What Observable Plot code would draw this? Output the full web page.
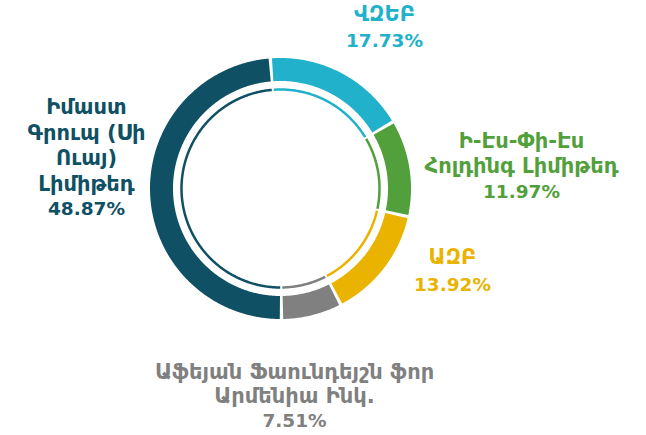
<!DOCTYPE html>
<html>
<head>
<meta charset="utf-8">
<script src="https://cdn.jsdelivr.net/npm/d3@7"></script>
<script src="https://cdn.jsdelivr.net/npm/@observablehq/plot@0.6"></script>
<style>
  html, body { margin: 0; padding: 0; background: #fff; }
  #chart { width: 646px; height: 435px; }
  text.name { letter-spacing: 0.6px; }
</style>
</head>
<body>
<div id="chart"></div>
<script>
// ---- data ----
const names = [
  "ՎԶԵԲ",
  "Ի-Էս-Փի-Էս\nՀոլդինգ Լիմիթեդ",
  "ԱԶԲ",
  "Աֆեյան Ֆաունդեյշն ֆոր\nԱրմենիա Ինկ.",
  "Իմաստ\nԳրուպ (Սի\nՈւայ)\nԼիմիթեդ"
];
const values = [17.73, 11.97, 13.92, 7.51, 48.87];
const colors = ["#21b1ca", "#52a03c", "#e9b300", "#808080", "#0f5064"];

// ---- layout ----
const W = 646, H = 435;
const cx = 280, cy = 188;
const startDeg = -4.5;
const rings = [
  {r: 119, width: 23, gapPx: 3},
  {r: 99, width: 2.5, gapPx: 2}
];
// label block centres and line heights (px)
const labelLayout = [
  {x: 384, y: 27, lh: 27},
  {x: 521, y: 166, lh: 25.5},
  {x: 452, y: 271, lh: 28},
  {x: 294, y: 396, lh: 24.5},
  {x: 86, y: 158, lh: 25.5}
];
const nameSize = 21, pctSize = 18.5;

// ---- build arcs from values ----
const total = d3.sum(values);
const arcPts = [];
let acc = 0;
values.forEach((v, i) => {
  const a0 = startDeg + acc / total * 360;
  acc += v;
  const a1 = startDeg + acc / total * 360;
  rings.forEach((ring, k) => {
    const g = (ring.gapPx / ring.r) * 180 / Math.PI / 2;
    const s = a0 + g, e = a1 - g;
    const n = Math.max(2, Math.ceil((e - s) / 0.5));
    for (let j = 0; j <= n; j++) {
      const a = (s + (e - s) * j / n) * Math.PI / 180;
      arcPts.push({
        key: i + "-" + k, ring: k, color: colors[i],
        x: cx + ring.r * Math.sin(a),
        y: cy - ring.r * Math.cos(a)
      });
    }
  });
});

// one datum per text line
const nameLines = [], pctLines = [];
names.forEach((n, i) => {
  const L = labelLayout[i];
  const lines = n.split("\n");
  const total = lines.length + 1;
  lines.forEach((t, j) => {
    nameLines.push({text: t, color: colors[i], x: L.x, y: L.y + (j - (total - 1) / 2) * L.lh});
  });
  pctLines.push({
    text: values[i].toFixed(2) + "%", color: colors[i],
    x: L.x, y: L.y + (lines.length - (total - 1) / 2) * L.lh
  });
});

const marks = rings.map((ring, k) =>
  Plot.line(arcPts.filter(d => d.ring === k), {
    x: "x", y: "y", z: "key", stroke: "color",
    strokeWidth: ring.width, strokeLinecap: "butt", strokeLinejoin: "round"
  })
);
marks.push(Plot.text(nameLines, {
  x: "x", y: "y", text: "text", fill: "color",
  textAnchor: "middle", lineAnchor: "middle",
  fontSize: nameSize, fontWeight: "bold",
  fontFamily: "'DejaVu Sans', sans-serif", className: "name"
}));
marks.push(Plot.text(pctLines, {
  x: "x", y: "y", text: "text", fill: "color",
  textAnchor: "middle", lineAnchor: "middle",
  fontSize: pctSize, fontWeight: "bold",
  fontFamily: "'DejaVu Sans', sans-serif"
}));

const chart = Plot.plot({
  width: W, height: H,
  margin: 0,
  x: {domain: [0, W], range: [0, W], axis: null},
  y: {domain: [0, H], range: [0, H], axis: null},
  color: {type: "identity"},
  style: {background: "#fff"},
  marks
});
document.getElementById("chart").appendChild(chart);
</script>
</body>
</html>
